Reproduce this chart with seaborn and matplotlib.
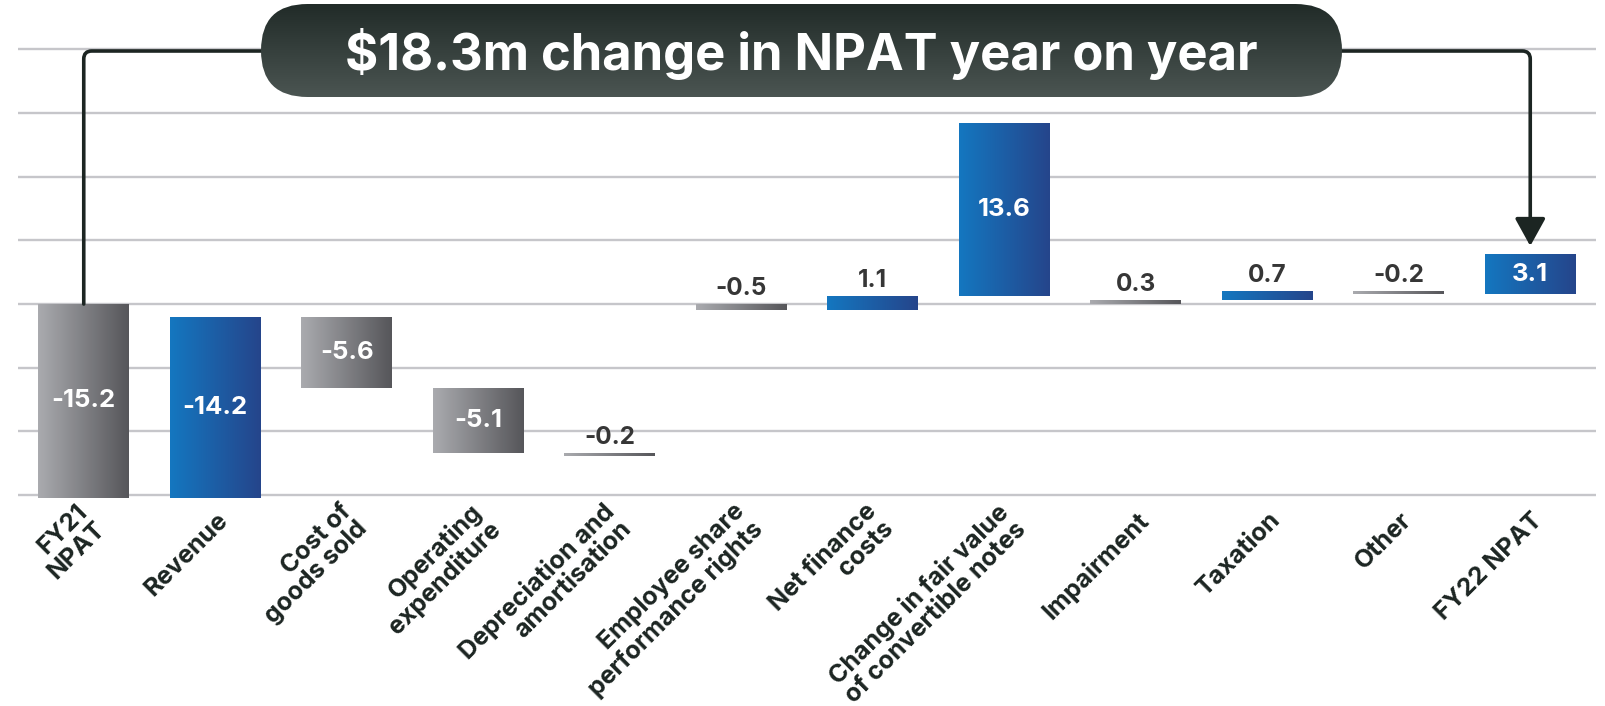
import matplotlib
matplotlib.use("Agg")
import matplotlib.pyplot as plt
import numpy as np
import pandas as pd
import seaborn as sns
from matplotlib.colors import LinearSegmentedColormap
from matplotlib.patches import FancyBboxPatch
from matplotlib.transforms import ScaledTranslation

# NPAT bridge, $m
categories = [
    "FY21\nNPAT",
    "Revenue",
    "Cost of\ngoods sold",
    "Operating\nexpenditure",
    "Depreciation and\namortisation",
    "Employee share\nperformance rights",
    "Net finance\ncosts",
    "Change in fair value\nof convertible notes",
    "Impairment",
    "Taxation",
    "Other",
    "FY22 NPAT",
]
values = [-15.2, -14.2, -5.6, -5.1, -0.2, -0.5, 1.1, 13.6, 0.3, 0.7, -0.2, 3.1]
bar_low = [-15.2, -15.2, -6.6, -11.7, -11.9, -0.5, -0.5, 0.6, 0.0, 0.3, 0.8, 0.8]
bar_high = [0.0, -1.0, -1.0, -6.6, -11.7, 0.0, 0.6, 14.2, 0.3, 1.0, 1.0, 3.9]
bar_tone = ["grey", "blue", "grey", "grey", "grey", "grey",
            "blue", "blue", "grey", "blue", "grey", "blue"]
headline = r"\$18.3m change in NPAT year on year"

TONES = {
    "grey": LinearSegmentedColormap.from_list("grey", ["#aaabaf", "#56565a"]),
    "blue": LinearSegmentedColormap.from_list("blue", ["#1477c0", "#25458b"]),
}
BOX_CMAP = LinearSegmentedColormap.from_list("box", ["#212b28", "#4b5552"])
INK = "#1c2522"

sns.set_theme(style="white")
plt.rcParams["font.family"] = ["Inter", "DejaVu Sans"]

W, H = 1606, 706
fig = plt.figure(figsize=(W / 100, H / 100), dpi=100)
ax = fig.add_axes([18 / W, 206 / H, 1578 / W, 500 / H])

df = pd.DataFrame({"item": categories, "span": np.subtract(bar_high, bar_low)})
sns.barplot(data=df, x="item", y="span", order=categories, ax=ax,
            width=0.69, color="#888888", saturation=1, errorbar=None)

grad = np.linspace(0, 1, 256).reshape(1, -1)
for i, patch in enumerate(ax.patches):
    patch.set_y(bar_low[i])
    patch.set_height(bar_high[i] - bar_low[i])
    patch.set_linewidth(0)
    x0, w = patch.get_x(), patch.get_width()
    img = ax.imshow(grad, cmap=TONES[bar_tone[i]], aspect="auto",
                    extent=(x0, x0 + w, bar_low[i], bar_high[i]),
                    interpolation="bilinear", zorder=2)
    img.set_clip_path(patch)

    label = f"{values[i]:.1f}"
    span = bar_high[i] - bar_low[i]
    if span >= 3:
        ax.text(i, (bar_low[i] + bar_high[i]) / 2, label, ha="center", va="center",
                color="white", fontsize=18.5, fontweight="bold", zorder=4)
    else:
        ax.annotate(label, xy=(i, bar_high[i]), xytext=(0, 3),
                    textcoords="offset points", ha="center", va="bottom",
                    color="#363636", fontsize=17.5, fontweight="bold", zorder=4)

ax.set_xlim(-0.5, len(categories) - 0.5)
ax.set_ylim(-15.38, 23.86)
ax.set_yticks(range(-15, 21, 5))
ax.grid(axis="y", color="#c6c6ca", linewidth=1.7)
ax.grid(axis="x", visible=False)
ax.set_axisbelow(True)
for s in ax.spines.values():
    s.set_visible(False)
ax.set_xlabel("")
ax.set_ylabel("")
ax.tick_params(axis="y", left=False, labelleft=False)
ax.tick_params(axis="x", length=0, pad=12)
ax.set_xticks(range(len(categories)))
ax.set_xticklabels(categories, rotation=45, ha="right", va="center",
                   rotation_mode="anchor", multialignment="right",
                   color=INK, fontsize=18, fontweight="bold", linespacing=1.05)
shift = ScaledTranslation(0.09, 0, fig.dpi_scale_trans)
for lab in ax.get_xticklabels():
    lab.set_transform(lab.get_transform() + shift)

# headline pill, drawn in pixel units
ov = fig.add_axes([0, 0, 1, 1])
box = FancyBboxPatch((261, 609), 1081, 93, boxstyle="round,pad=0,rounding_size=46.5",
                     facecolor="none", edgecolor="none")
ov.add_patch(box)
bg = ov.imshow(np.linspace(0, 1, 256).reshape(-1, 1), cmap=BOX_CMAP, aspect="auto",
               extent=(261, 1342, 609, 702), origin="upper", zorder=2)
bg.set_clip_path(box)
ov.text(801, 636, headline, ha="center", va="baseline", color="white",
        fontsize=36.5, fontweight="bold", zorder=3)
ov.set_xlim(0, W)
ov.set_ylim(0, H)
ov.axis("off")

line_kw = dict(color=INK, lw=2.6, shrinkA=0)
ax.annotate("", xy=(0, bar_high[0]), xycoords="data",
            xytext=(330, 655), textcoords=ov.transData,
            arrowprops=dict(arrowstyle="-", shrinkB=0,
                            connectionstyle="angle,angleA=0,angleB=90,rad=8", **line_kw))
ax.annotate("", xy=(len(categories) - 1, bar_high[-1]), xycoords="data",
            xytext=(1280, 655), textcoords=ov.transData,
            arrowprops=dict(arrowstyle="-|>,head_length=0.85,head_width=0.47",
                            mutation_scale=20, shrinkB=6, fc=INK,
                            connectionstyle="angle,angleA=0,angleB=90,rad=8", **line_kw))

fig.savefig("out.png", dpi=100)
